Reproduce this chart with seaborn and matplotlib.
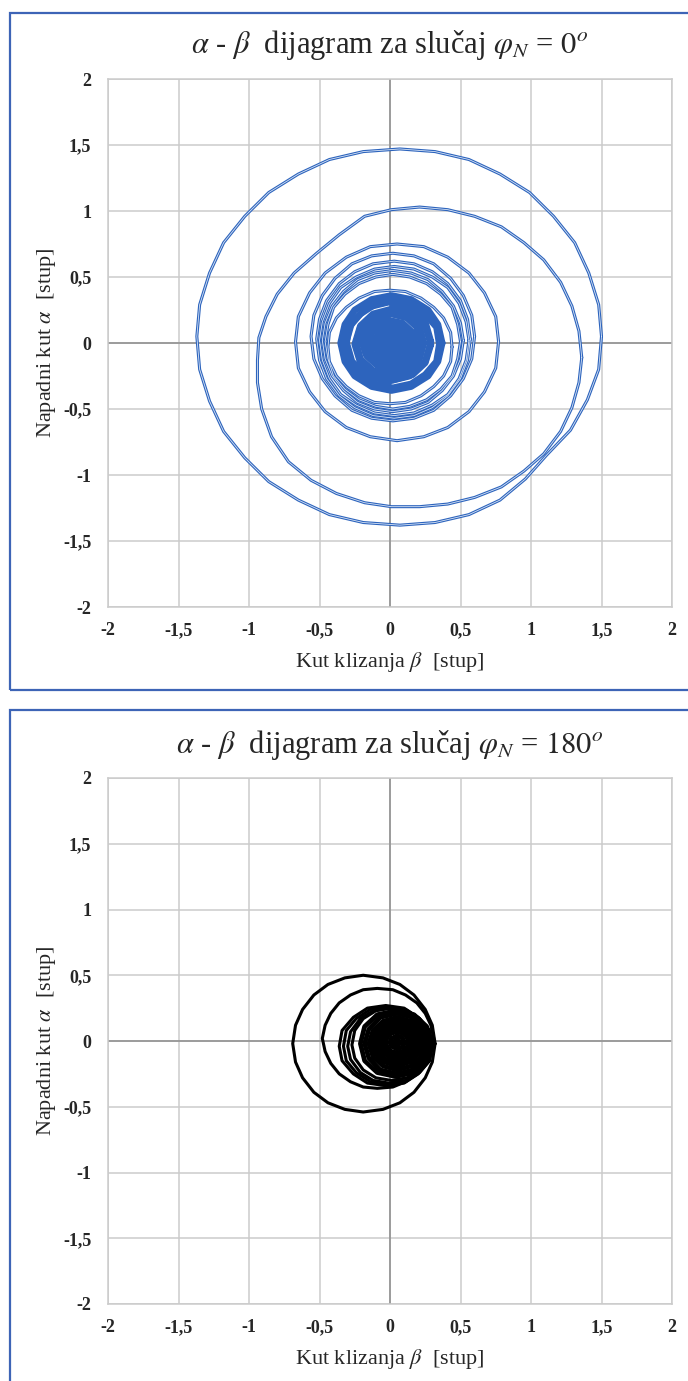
import pandas as pd
import matplotlib
matplotlib.use('Agg')
import matplotlib.pyplot as plt
import seaborn as sns
from matplotlib.patches import Rectangle

# ---- axis ticks ----
tick_vals = [-2, -1.5, -1, -0.5, 0, 0.5, 1, 1.5, 2]
tick_labels = ['-2', '-1,5', '-1', '-0,5', '0', '0,5', '1', '1,5', '2']

# ---- phi_N = 0 : rings (beta, alpha) ----
beta_0 = [
    # outer loop
    [1.50, 1.48, 1.41, 1.31, 1.16, 0.99, 0.78, 0.56, 0.32, 0.07, -0.19, -0.43, -0.65, -0.86, -1.03, -1.18, -1.28, -1.35,
     -1.37, -1.35, -1.28, -1.18, -1.03, -0.86, -0.65, -0.43, -0.19, 0.07, 0.32, 0.56, 0.78, 0.96, 1.11, 1.28, 1.40, 1.48, 1.50],
    # second loop
    [1.36, 1.34, 1.29, 1.21, 1.09, 0.95, 0.79, 0.60, 0.41, 0.21, 0.01, -0.18, -0.36, -0.52, -0.68, -0.80, -0.88, -0.93,
     -0.94, -0.94, -0.91, -0.84, -0.72, -0.56, -0.38, -0.18, 0.01, 0.21, 0.41, 0.60, 0.79, 0.95, 1.09, 1.21, 1.29, 1.34, 1.36],
    # third loop
    [0.77, 0.75, 0.67, 0.56, 0.41, 0.24, 0.05, -0.14, -0.31, -0.46, -0.57, -0.65, -0.67,
     -0.65, -0.57, -0.46, -0.31, -0.14, 0.05, 0.24, 0.41, 0.56, 0.67, 0.75, 0.77],
    [0.60, 0.58, 0.52, 0.43, 0.31, 0.17, 0.02, -0.13, -0.27, -0.39, -0.48, -0.54, -0.56,
     -0.54, -0.48, -0.39, -0.27, -0.13, 0.02, 0.17, 0.31, 0.43, 0.52, 0.58, 0.60],
    [0.57, 0.55, 0.50, 0.41, 0.30, 0.17, 0.03, -0.12, -0.25, -0.36, -0.45, -0.50, -0.52,
     -0.50, -0.45, -0.36, -0.25, -0.12, 0.03, 0.17, 0.30, 0.41, 0.50, 0.55, 0.57],
    [0.56, 0.54, 0.49, 0.41, 0.30, 0.17, 0.03, -0.11, -0.24, -0.35, -0.43, -0.48, -0.50,
     -0.48, -0.43, -0.35, -0.24, -0.11, 0.03, 0.17, 0.30, 0.41, 0.49, 0.54, 0.56],
    [0.52, 0.50, 0.45, 0.37, 0.27, 0.15, 0.02, -0.11, -0.23, -0.33, -0.41, -0.46, -0.48,
     -0.46, -0.41, -0.33, -0.23, -0.11, 0.02, 0.15, 0.27, 0.37, 0.45, 0.50, 0.52],
    [0.50, 0.48, 0.44, 0.36, 0.26, 0.14, 0.02, -0.10, -0.22, -0.32, -0.40, -0.44, -0.46,
     -0.44, -0.40, -0.32, -0.22, -0.10, 0.02, 0.14, 0.26, 0.36, 0.44, 0.48, 0.50],
    [0.44, 0.43, 0.38, 0.31, 0.22, 0.11, 0.00, -0.11, -0.22, -0.31, -0.38, -0.43, -0.44,
     -0.43, -0.38, -0.31, -0.22, -0.11, 0.00, 0.11, 0.22, 0.31, 0.38, 0.43, 0.44],
    # dense centre
    [0.37, 0.34, 0.27, 0.15, 0.01, -0.13, -0.25, -0.32, -0.35, -0.32, -0.25, -0.13, 0.01, 0.15, 0.27, 0.34, 0.37],
    [0.35, 0.33, 0.25, 0.15, 0.02, -0.11, -0.21, -0.29, -0.31, -0.29, -0.21, -0.11, 0.02, 0.15, 0.25, 0.33, 0.35],
    [0.29, 0.25, 0.14, -0.01, -0.16, -0.27, -0.31, -0.27, -0.16, -0.01, 0.14, 0.25, 0.29],
    [0.29, 0.25, 0.16, 0.02, -0.12, -0.21, -0.25, -0.21, -0.12, 0.02, 0.16, 0.25, 0.29],
    [0.24, 0.21, 0.12, 0.00, -0.12, -0.21, -0.24, -0.21, -0.12, 0.00, 0.12, 0.21, 0.24],
    [0.22, 0.19, 0.12, 0.01, -0.09, -0.17, -0.20, -0.17, -0.09, 0.01, 0.12, 0.19, 0.22],
    [0.18, 0.16, 0.09, 0.00, -0.09, -0.16, -0.18, -0.16, -0.09, 0.00, 0.09, 0.16, 0.18],
    [0.15, 0.13, 0.08, 0.00, -0.08, -0.13, -0.15, -0.13, -0.08, 0.00, 0.08, 0.13, 0.15],
    [0.13, 0.11, 0.07, 0.01, -0.05, -0.09, -0.11, -0.09, -0.05, 0.01, 0.07, 0.11, 0.13],
    [0.09, 0.08, 0.05, 0.00, -0.05, -0.08, -0.09, -0.08, -0.05, 0.00, 0.05, 0.08, 0.09],
    [0.06, 0.05, 0.03, 0.00, -0.03, -0.05, -0.06, -0.05, -0.03, 0.00, 0.03, 0.05, 0.06],
    [0.03, 0.00, -0.03, 0.00, 0.03],
]
alpha_0 = [
    [0.05, 0.29, 0.53, 0.76, 0.96, 1.14, 1.28, 1.39, 1.45, 1.47, 1.45, 1.39, 1.28, 1.14, 0.96, 0.76, 0.53, 0.29,
     0.05, -0.20, -0.44, -0.67, -0.87, -1.05, -1.19, -1.30, -1.36, -1.38, -1.36, -1.30, -1.19, -1.03, -0.85, -0.66, -0.43, -0.20, 0.05],
    [-0.11, 0.09, 0.28, 0.46, 0.63, 0.76, 0.88, 0.96, 1.01, 1.03, 1.01, 0.96, 0.82, 0.68, 0.53, 0.37, 0.20, 0.04,
     -0.13, -0.30, -0.50, -0.71, -0.90, -1.04, -1.14, -1.21, -1.24, -1.24, -1.22, -1.17, -1.09, -0.97, -0.84, -0.67, -0.49, -0.30, -0.11],
    [0.01, 0.20, 0.38, 0.53, 0.65, 0.73, 0.75, 0.73, 0.65, 0.53, 0.38, 0.20, 0.01,
     -0.19, -0.37, -0.52, -0.64, -0.71, -0.74, -0.71, -0.64, -0.52, -0.37, -0.19, 0.01],
    [0.05, 0.21, 0.36, 0.49, 0.60, 0.66, 0.68, 0.66, 0.60, 0.49, 0.36, 0.21, 0.05,
     -0.12, -0.27, -0.40, -0.51, -0.57, -0.59, -0.57, -0.51, -0.40, -0.27, -0.12, 0.05],
    [0.03, 0.18, 0.32, 0.45, 0.54, 0.60, 0.62, 0.60, 0.54, 0.45, 0.32, 0.18, 0.03,
     -0.13, -0.27, -0.40, -0.49, -0.55, -0.57, -0.55, -0.49, -0.40, -0.27, -0.13, 0.03],
    [0.02, 0.16, 0.30, 0.42, 0.50, 0.56, 0.58, 0.56, 0.50, 0.42, 0.30, 0.16, 0.02,
     -0.13, -0.27, -0.39, -0.47, -0.53, -0.55, -0.53, -0.47, -0.39, -0.27, -0.13, 0.02],
    [0.02, 0.15, 0.28, 0.39, 0.48, 0.53, 0.55, 0.53, 0.48, 0.39, 0.28, 0.15, 0.02,
     -0.12, -0.25, -0.36, -0.45, -0.50, -0.52, -0.50, -0.45, -0.36, -0.25, -0.12, 0.02],
    [0.01, 0.14, 0.27, 0.37, 0.45, 0.50, 0.52, 0.50, 0.45, 0.37, 0.27, 0.14, 0.01,
     -0.12, -0.25, -0.35, -0.43, -0.48, -0.50, -0.48, -0.43, -0.35, -0.25, -0.12, 0.01],
    [-0.03, 0.08, 0.19, 0.27, 0.34, 0.39, 0.40, 0.39, 0.34, 0.27, 0.19, 0.08, -0.03,
     -0.14, -0.25, -0.33, -0.40, -0.45, -0.46, -0.45, -0.40, -0.33, -0.25, -0.14, -0.03],
    [0.00, 0.14, 0.25, 0.33, 0.36, 0.33, 0.25, 0.14, 0.00, -0.14, -0.25, -0.33, -0.36, -0.33, -0.25, -0.14, 0.00],
    [-0.01, 0.12, 0.22, 0.29, 0.32, 0.29, 0.22, 0.12, -0.01, -0.14, -0.24, -0.31, -0.34, -0.31, -0.24, -0.14, -0.01],
    [0.01, 0.16, 0.27, 0.31, 0.27, 0.16, 0.01, -0.14, -0.25, -0.29, -0.25, -0.14, 0.01],
    [-0.01, 0.13, 0.22, 0.26, 0.22, 0.13, -0.01, -0.15, -0.24, -0.28, -0.24, -0.15, -0.01],
    [0.00, 0.12, 0.21, 0.24, 0.21, 0.12, 0.00, -0.12, -0.21, -0.24, -0.21, -0.12, 0.00],
    [0.01, 0.12, 0.19, 0.22, 0.19, 0.12, 0.01, -0.09, -0.17, -0.20, -0.17, -0.09, 0.01],
    [-0.01, 0.08, 0.15, 0.17, 0.15, 0.08, -0.01, -0.10, -0.17, -0.19, -0.17, -0.10, -0.01],
    [0.00, 0.08, 0.13, 0.15, 0.13, 0.08, 0.00, -0.08, -0.13, -0.15, -0.13, -0.08, 0.00],
    [0.00, 0.06, 0.10, 0.12, 0.10, 0.06, 0.00, -0.06, -0.10, -0.12, -0.10, -0.06, 0.00],
    [0.00, 0.05, 0.08, 0.09, 0.08, 0.05, 0.00, -0.05, -0.08, -0.09, -0.08, -0.05, 0.00],
    [0.00, 0.03, 0.05, 0.06, 0.05, 0.03, 0.00, -0.03, -0.05, -0.06, -0.05, -0.03, 0.00],
    [0.00, 0.03, 0.00, -0.03, 0.00],
]

# ---- phi_N = 180 ----
beta_180 = [
    [0.32, 0.30, 0.25, 0.17, 0.07, -0.05, -0.19, -0.32, -0.44, -0.54, -0.62, -0.67, -0.69,
     -0.67, -0.62, -0.54, -0.44, -0.32, -0.19, -0.05, 0.07, 0.17, 0.25, 0.30, 0.32],
    [0.31, 0.29, 0.25, 0.19, 0.11, 0.02, -0.09, -0.19, -0.28, -0.36, -0.42, -0.46, -0.48,
     -0.46, -0.42, -0.36, -0.28, -0.19, -0.09, 0.02, 0.11, 0.19, 0.25, 0.29, 0.31],
    [0.30, 0.28, 0.20, 0.10, -0.03, -0.16, -0.26, -0.34, -0.36, -0.34, -0.26, -0.16, -0.03, 0.10, 0.20, 0.28, 0.30],
    [0.30, 0.28, 0.21, 0.11, -0.02, -0.14, -0.24, -0.31, -0.33, -0.31, -0.24, -0.14, -0.02, 0.11, 0.21, 0.28, 0.30],
    [0.29, 0.27, 0.20, 0.11, -0.01, -0.12, -0.21, -0.28, -0.30, -0.28, -0.21, -0.12, -0.01, 0.11, 0.20, 0.27, 0.29],
    [0.29, 0.27, 0.21, 0.12, 0.01, -0.10, -0.19, -0.25, -0.27, -0.25, -0.19, -0.10, 0.01, 0.12, 0.21, 0.27, 0.29],
    # dense centre
    [0.29, 0.26, 0.17, 0.04, -0.09, -0.18, -0.21, -0.18, -0.09, 0.04, 0.17, 0.26, 0.29],
    [0.27, 0.24, 0.16, 0.05, -0.07, -0.15, -0.18, -0.15, -0.07, 0.05, 0.16, 0.24, 0.27],
    [0.25, 0.22, 0.15, 0.05, -0.05, -0.12, -0.15, -0.12, -0.05, 0.05, 0.15, 0.22, 0.25],
    [0.23, 0.20, 0.14, 0.05, -0.04, -0.10, -0.13, -0.10, -0.04, 0.05, 0.14, 0.20, 0.23],
    [0.20, 0.18, 0.13, 0.05, -0.03, -0.08, -0.10, -0.08, -0.03, 0.05, 0.13, 0.18, 0.20],
    [0.18, 0.16, 0.11, 0.05, -0.01, -0.06, -0.08, -0.06, -0.01, 0.05, 0.11, 0.16, 0.18],
    [0.15, 0.14, 0.10, 0.05, 0.00, -0.04, -0.05, -0.04, 0.00, 0.05, 0.10, 0.14, 0.15],
    [0.13, 0.12, 0.09, 0.05, 0.01, -0.02, -0.03, -0.02, 0.01, 0.05, 0.09, 0.12, 0.13],
    [0.10, 0.09, 0.08, 0.05, 0.03, 0.01, 0.00, 0.01, 0.03, 0.05, 0.08, 0.09, 0.10],
    [0.075, 0.05, 0.025, 0.05, 0.075],
]
alpha_180 = [
    [-0.02, 0.12, 0.24, 0.35, 0.43, 0.48, 0.50, 0.48, 0.43, 0.35, 0.24, 0.12, -0.02,
     -0.16, -0.28, -0.39, -0.47, -0.52, -0.54, -0.52, -0.47, -0.39, -0.28, -0.16, -0.02],
    [0.02, 0.12, 0.21, 0.29, 0.35, 0.39, 0.40, 0.39, 0.35, 0.29, 0.21, 0.12, 0.02,
     -0.08, -0.17, -0.25, -0.31, -0.35, -0.36, -0.35, -0.31, -0.25, -0.17, -0.08, 0.02],
    [-0.04, 0.08, 0.18, 0.25, 0.27, 0.25, 0.18, 0.08, -0.04, -0.15, -0.25, -0.32, -0.34, -0.32, -0.25, -0.15, -0.04],
    [-0.04, 0.08, 0.17, 0.24, 0.26, 0.24, 0.17, 0.08, -0.04, -0.15, -0.24, -0.31, -0.33, -0.31, -0.24, -0.15, -0.04],
    [-0.04, 0.07, 0.17, 0.23, 0.25, 0.23, 0.17, 0.07, -0.04, -0.14, -0.24, -0.30, -0.32, -0.30, -0.24, -0.14, -0.04],
    [-0.03, 0.08, 0.17, 0.23, 0.25, 0.23, 0.17, 0.08, -0.03, -0.13, -0.22, -0.28, -0.30, -0.28, -0.22, -0.13, -0.03],
    [-0.02, 0.11, 0.20, 0.23, 0.20, 0.11, -0.02, -0.15, -0.24, -0.27, -0.24, -0.15, -0.02],
    [-0.02, 0.09, 0.18, 0.21, 0.18, 0.09, -0.02, -0.13, -0.22, -0.25, -0.22, -0.13, -0.02],
    [-0.02, 0.08, 0.15, 0.18, 0.15, 0.08, -0.02, -0.12, -0.19, -0.22, -0.19, -0.12, -0.02],
    [-0.01, 0.08, 0.14, 0.17, 0.14, 0.08, -0.01, -0.10, -0.16, -0.19, -0.16, -0.10, -0.01],
    [-0.01, 0.07, 0.12, 0.14, 0.12, 0.07, -0.01, -0.09, -0.14, -0.16, -0.14, -0.09, -0.01],
    [-0.01, 0.05, 0.10, 0.12, 0.10, 0.05, -0.01, -0.07, -0.12, -0.14, -0.12, -0.07, -0.01],
    [-0.01, 0.04, 0.08, 0.09, 0.08, 0.04, -0.01, -0.06, -0.10, -0.11, -0.10, -0.06, -0.01],
    [-0.01, 0.03, 0.06, 0.07, 0.06, 0.03, -0.01, -0.05, -0.08, -0.09, -0.08, -0.05, -0.01],
    [-0.01, 0.02, 0.03, 0.04, 0.03, 0.02, -0.01, -0.04, -0.05, -0.06, -0.05, -0.04, -0.01],
    [-0.01, 0.015, -0.01, -0.035, -0.01],
]

titles = [r'$\alpha$ - $\beta$  dijagram za slučaj $\varphi_N$ = $\mathit{0}^{\mathit{o}}$',
          r'$\alpha$ - $\beta$  dijagram za slučaj $\varphi_N$ = $\mathit{180}^{\mathit{o}}$']
xlabel = r'Kut klizanja $\beta$  [stup]'
ylabel = r'Napadni kut $\alpha$  [stup]'


def rings_frame(betas, alphas):
    parts = []
    for i, (b, a) in enumerate(zip(betas, alphas)):
        parts.append(pd.DataFrame({'beta': b, 'alpha': a, 'loop': i}))
    return pd.concat(parts, ignore_index=True)


sns.set_style('white')
plt.rcParams['font.family'] = ['Liberation Serif', 'DejaVu Serif']
plt.rcParams['mathtext.fontset'] = 'stix'

W, H = 688, 1381
fig = plt.figure(figsize=(W / 100, H / 100), dpi=100)

# blue frames round each panel
frame_col = '#3d64b6'
fig.add_artist(Rectangle((10 / W, 1 - 690 / H), 700 / W, 677 / H, transform=fig.transFigure,
                         fill=False, ec=frame_col, lw=1.6))
fig.add_artist(Rectangle((10 / W, -0.05), 700 / W, 1 - 710 / H + 0.05, transform=fig.transFigure,
                         fill=False, ec=frame_col, lw=1.6))

panels = [
    dict(top=79, bottom=607, title_y=45, df=rings_frame(beta_0, alpha_0),
         color='#2d64bd', core=9, core_lw=4.8),
    dict(top=778, bottom=1304, title_y=745, df=rings_frame(beta_180, alpha_180),
         color='black', core=6, core_lw=3.4),
]

for p, title in zip(panels, titles):
    ax = fig.add_axes([108 / W, 1 - p['bottom'] / H, 564 / W, (p['bottom'] - p['top']) / H])
    ax.set_xlim(-2, 2)
    ax.set_ylim(-2, 2)
    ax.set_xticks(tick_vals)
    ax.set_yticks(tick_vals)
    ax.set_xticklabels(tick_labels, fontweight='bold', fontsize=13)
    ax.set_yticklabels(tick_labels, fontweight='bold', fontsize=13)
    ax.tick_params(length=0)
    ax.tick_params(axis='x', pad=11)
    ax.tick_params(axis='y', pad=12)
    ax.grid(True, color='#cbcbcb', lw=1.1)
    ax.set_axisbelow(True)
    for s in ax.spines.values():
        s.set_color('#cbcbcb')
        s.set_linewidth(1.1)
    ax.axhline(0, color='#8c8c8c', lw=1.1, zorder=1)
    ax.axvline(0, color='#8c8c8c', lw=1.1, zorder=1)

    df = p['df']
    rings = df[df['loop'] < p['core']]
    core = df[df['loop'] >= p['core']]
    sns.lineplot(data=rings, x='beta', y='alpha', units='loop', estimator=None, sort=False,
                 color=p['color'], linewidth=2.2, ax=ax, legend=False, zorder=3)
    sns.lineplot(data=core, x='beta', y='alpha', units='loop', estimator=None, sort=False,
                 color=p['color'], linewidth=p['core_lw'], ax=ax, legend=False, zorder=3)
    if p['color'] != 'black':
        # pale core gives the double-stroke look of the larger rings
        sns.lineplot(data=rings, x='beta', y='alpha', units='loop', estimator=None, sort=False,
                     color='#d9e5f6', linewidth=0.6, ax=ax, legend=False, zorder=4)

    ax.set_xlabel(xlabel, fontsize=16)
    ax.set_ylabel(ylabel, fontsize=16)
    ax.xaxis.set_label_coords(0.5, -0.082)
    ax.yaxis.set_label_coords(-0.088, 0.5)
    fig.text(390 / W, 1 - p['title_y'] / H, title, ha='center', va='center', fontsize=22)

fig.savefig('out.png', dpi=100)
